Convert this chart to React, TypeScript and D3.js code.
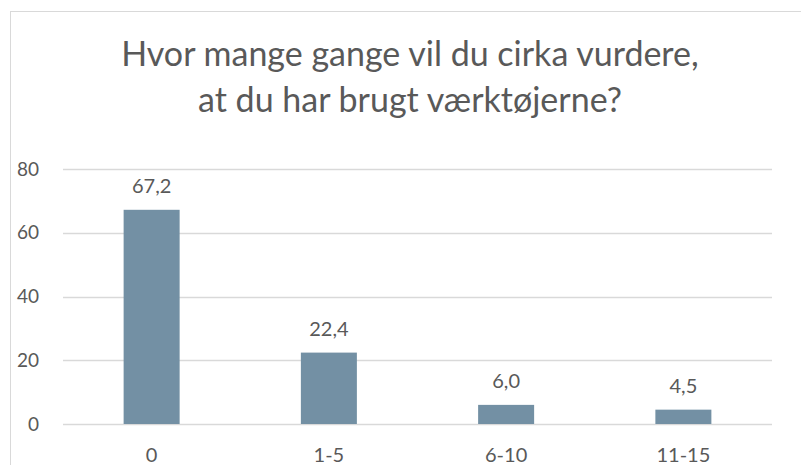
import React, { useEffect, useRef } from 'react'
import * as d3 from 'd3'

// chart data
const categories: string[] = ['0', '1-5', '6-10', '11-15']
const values: number[] = [67.2, 22.4, 6.0, 4.5]
const yTicks: number[] = [0, 20, 40, 60, 80]
const titleLines: string[] = ['Hvor mange gange vil du cirka vurdere,', 'at du har brugt værktøjerne?']

const W = 801
const H = 465
const FONT = 'Lato, "Open Sans", sans-serif'
const TEXT = '#595959'
const GRID = '#d9d9d9'
const BAR = '#7390a4'

export default function App() {
  const ref = useRef<SVGSVGElement>(null)

  useEffect(() => {
    const svg = d3.select(ref.current)
    svg.selectAll('*').remove()

    // plot area
    const left = 63, right = 772, top = 169, bottom = 424

    // chart border (runs off the right/bottom edge of the picture)
    svg.append('rect')
      .attr('x', 10.5).attr('y', 11.5)
      .attr('width', W).attr('height', H)
      .attr('fill', 'white')
      .attr('stroke', GRID)
      .attr('stroke-width', 1)

    // title
    svg.append('text')
      .attr('text-anchor', 'middle')
      .attr('font-family', FONT)
      .attr('font-size', 34)
      .attr('fill', TEXT)
      .selectAll('tspan')
      .data(titleLines)
      .enter().append('tspan')
      .attr('x', 410)
      .attr('y', (d, i) => 66 + i * 46)
      .text(d => d)

    const x = d3.scaleBand<string>()
      .domain(categories)
      .range([left, right])
      .paddingInner(0.684)
      .paddingOuter(0.342)

    const y = d3.scaleLinear()
      .domain([0, 80])
      .range([bottom, top])

    // gridlines
    svg.append('g')
      .selectAll('line')
      .data(yTicks)
      .enter().append('line')
      .attr('x1', left).attr('x2', right)
      .attr('y1', d => Math.round(y(d)) + 0.5)
      .attr('y2', d => Math.round(y(d)) + 0.5)
      .attr('stroke', GRID)
      .attr('stroke-width', 1.3)

    // y labels
    svg.append('g')
      .selectAll('text')
      .data(yTicks)
      .enter().append('text')
      .attr('x', 39)
      .attr('y', d => y(d))
      .attr('dy', '0.35em')
      .attr('text-anchor', 'end')
      .attr('font-family', FONT)
      .attr('font-size', 19)
      .attr('fill', TEXT)
      .text(d => d)

    // bars
    svg.append('g')
      .selectAll('rect')
      .data(values)
      .enter().append('rect')
      .attr('x', (d, i) => x(categories[i]) as number)
      .attr('width', x.bandwidth())
      .attr('y', d => y(d))
      .attr('height', d => y(0) - y(d))
      .attr('fill', BAR)

    // value labels
    svg.append('g')
      .selectAll('text')
      .data(values)
      .enter().append('text')
      .attr('x', (d, i) => (x(categories[i]) as number) + x.bandwidth() / 2)
      .attr('y', d => y(d) - 17)
      .attr('text-anchor', 'middle')
      .attr('font-family', FONT)
      .attr('font-size', 20)
      .attr('fill', TEXT)
      .text(d => d.toFixed(1).replace('.', ','))

    // category labels
    svg.append('g')
      .selectAll('text')
      .data(categories)
      .enter().append('text')
      .attr('x', d => (x(d) as number) + x.bandwidth() / 2)
      .attr('y', 462)
      .attr('text-anchor', 'middle')
      .attr('font-family', FONT)
      .attr('font-size', 20)
      .attr('fill', TEXT)
      .text(d => d)
  }, [])

  return (
    <svg ref={ref} width={W} height={H}
      style={{ position: 'absolute', left: 0, top: 0, background: 'white' }} />
  )
}
